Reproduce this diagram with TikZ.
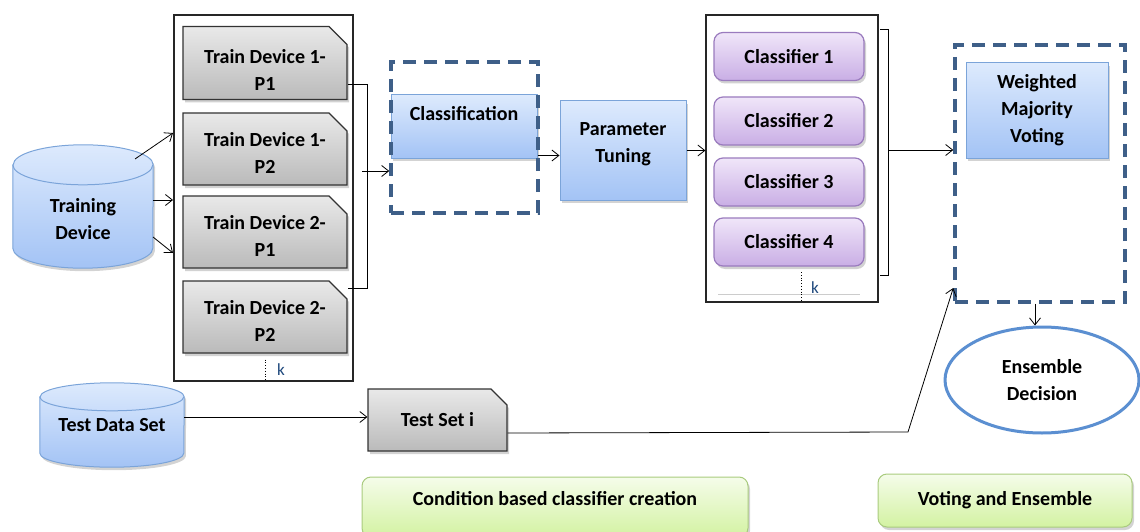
\documentclass[tikz,border=0pt]{standalone}
\usepackage{fontspec}
\setmainfont{Carlito}
\usepackage{xcolor}
\usetikzlibrary{arrows.meta, positioning, shapes.geometric, shapes.misc, shadows, backgrounds}

\definecolor{grayT}{HTML}{E9E9E9}
\definecolor{grayB}{HTML}{BABABA}
\definecolor{blueT}{HTML}{DDEAFD}
\definecolor{blueB}{HTML}{A3C3F5}
\definecolor{blueD}{HTML}{7BA4D9}
\definecolor{purpT}{HTML}{F0E6F9}
\definecolor{purpB}{HTML}{C9AEE5}
\definecolor{purpD}{HTML}{9A7BBE}
\definecolor{greenT}{HTML}{F5FCEA}
\definecolor{greenB}{HTML}{D3F2A2}
\definecolor{greenD}{HTML}{A9CB7E}
\definecolor{dashblue}{HTML}{3E5F88}
\definecolor{ringblue}{HTML}{5B8FD1}
\definecolor{kblue}{HTML}{1F497D}

\tikzset{
    shade/.style={drop shadow={shadow xshift=2pt, shadow yshift=-3pt, opacity=0.35, fill=black!50}},
    partbox/.style={chamfered rectangle, chamfered rectangle corners=north east,
        chamfered rectangle sep=9pt, draw=black!80, line width=1.2pt,
        top color=grayT, bottom color=grayB, shade},
    bluebox/.style={rectangle, draw=blueD, line width=1pt,
        top color=blueT, bottom color=blueB, shade},
    clfbox/.style={rectangle, rounded corners=9pt, draw=purpD, line width=1.2pt,
        top color=purpT, bottom color=purpB, minimum width=150pt, minimum height=48pt, shade},
    phasebox/.style={rectangle, rounded corners=9pt, draw=greenD, line width=1pt,
        top color=greenT, bottom color=greenB, shade},
    groupbox/.style={rectangle, draw=dashblue, line width=3.5pt, dash pattern=on 13pt off 8pt},
    outerbox/.style={rectangle, draw=black!85, line width=1.2pt, fill=white},
    dbshape/.style={draw=blueD, line width=1pt, top color=blueT, bottom color=blueB, shade},
}

% cylinder round a node: name, x radius, y radius
\newcommand{\drawdb}[3]{%
    \path[dbshape] ([yshift=-#3]#1.north west) -- ([yshift=#3]#1.south west)
        arc[start angle=180, end angle=360, x radius=#2, y radius=#3]
        -- ([yshift=-#3]#1.north east)
        arc[start angle=0, end angle=180, x radius=#2, y radius=#3] -- cycle;
    \draw[draw=blueD, line width=1pt] ([yshift=-#3]#1.north west)
        arc[start angle=180, end angle=360, x radius=#2, y radius=#3];
}

\begin{document}
\begin{tikzpicture}[x=1pt, y=-1pt, >={Straight Barb[length=7pt, width=11pt]},
    every node/.style={font=\bfseries\fontsize{20}{27}\selectfont, align=center, inner sep=0pt}]
    \useasboundingbox (0,0) rectangle (1140,532);

    % training data and its partitions
    \node[minimum width=140pt, minimum height=123pt] (trd) at (83,206.5) {\rule{0pt}{39pt}Training\\Device};
    \begin{scope}[on background layer]
        \drawdb{trd}{70pt}{20pt}
    \end{scope}
    \node[outerbox, minimum width=179pt, minimum height=366pt] (box1) at (263.5,198) {};
    \node[partbox, minimum width=164pt, minimum height=68pt] (p11) at (265,63) {\rule{0pt}{28pt}Train Device 1-\\P1};
    \node[partbox, minimum width=164pt, minimum height=72pt] (p12) at (265,149) {\rule{0pt}{22pt}Train Device 1-\\P2};
    \node[partbox, minimum width=164pt, minimum height=72pt] (p21) at (265,232) {\rule{0pt}{22pt}Train Device 2-\\P1};
    \node[partbox, minimum width=164pt, minimum height=72pt] (p22) at (265,317) {\rule{0pt}{22pt}Train Device 2-\\P2};
    \draw[dotted, thick] ([yshift=-6pt]p22.south) -- (p22.south |- box1.south);
    \node[font=\fontsize{17}{20}\selectfont, text=kblue] (k1) at (281,370) {k};

    \coordinate (a1s) at (135,159); \coordinate (a1e) at (173,133);
    \coordinate (a2s) at (153,200); \coordinate (a2e) at (173,200);
    \coordinate (a3s) at (153,237); \coordinate (a3e) at (173,253);
    \draw[->, thick] (a1s) -- (a1e);
    \draw[->, thick] (a2s) -- (a2e);
    \draw[->, thick] (a3s) -- (a3e);

    % classification and tuning
    \node[bluebox, minimum width=146pt, minimum height=63pt] (clsf) at (464,126.5) {Classification\\\mbox{}};
    \node[groupbox, minimum width=147pt, minimum height=151pt] (clsgrp) at (464.5,137.5) {};
    \node[bluebox, minimum width=126pt, minimum height=99pt] (ptun) at (623,150.5) {Parameter\\Tuning\\[-12pt]\mbox{}};

    \coordinate (bk1top) at (p11.east |- 0,84);
    \coordinate (bk1bot) at (p22.east |- 0,288);
    \draw[thick] (bk1top) -- ++(20,0) |- (bk1bot);
    \coordinate (bk1mid) at (362,171);
    \draw[->, thick] (bk1mid) -- (bk1mid -| clsgrp.west);
    \coordinate (c1) at ([yshift=3pt]clsf.south east);
    \draw[->, thick] (c1) -- (c1 -| ptun.west);

    % classifiers
    \node[outerbox, minimum width=172pt, minimum height=287pt] (box2) at (792,158.5) {};
    \node[clfbox] (cf1) at (789,56.5) {Classifier 1};
    \node[clfbox] (cf2) at (789,121) {Classifier 2};
    \node[clfbox] (cf3) at (789,182) {Classifier 3};
    \node[clfbox] (cf4) at (789,242) {Classifier 4};
    \draw[black!20] (718,294) -- (860,294);
    \coordinate (k2top) at (801,272);
    \draw[dotted, thick] (k2top) -- (k2top |- box2.south);
    \node[font=\fontsize{17}{20}\selectfont, text=kblue] (k2) at (815,288) {k};
    \draw[->, thick] (ptun.east) -- (ptun.east -| box2.west);

    % voting
    \node[bluebox, minimum width=142pt, minimum height=95pt] (wmv) at (1037,110.5) {Weighted\\Majority\\Voting};
    \node[groupbox, minimum width=170pt, minimum height=257pt] (vgrp) at (1040,173.5) {};
    \coordinate (bk2top) at (880,29);
    \coordinate (bk2bot) at (880,275);
    \draw[thick] (bk2top) -- ++(8,0) |- (bk2bot);
    \coordinate (bk2mid) at (888,150);
    \draw[->, thick] (bk2mid) -- (bk2mid -| vgrp.west);
    \node[ellipse, draw=ringblue, line width=3pt, fill=white, minimum width=194pt, minimum height=106pt] (ens) at (1042,380) {Ensemble\\Decision};
    \draw[->, thick] (vgrp.south -| 1035,0) -- (1035,0 |- ens.north);

    % test data
    \node[minimum width=144pt, minimum height=84pt] (tds) at (112,425) {Test Data Set};
    \begin{scope}[on background layer]
        \drawdb{tds}{72pt}{14pt}
    \end{scope}
    \node[partbox, minimum width=139pt, minimum height=62pt] (tset) at (437.5,420) {Test Set i};
    \coordinate (t1) at (tds.east |- 0,417);
    \draw[->, thick] (t1) -- (t1 -| tset.west);
    \coordinate (t2) at (tset.east |- 0,433);
    \coordinate (tk) at (908,432);
    \coordinate (vin) at (vgrp.west |- 0,288);
    \draw[->, thick] (t2) -- (tk) -- (vin);

    % phases
    \node[phasebox, minimum width=386pt, minimum height=60pt] (phase1) at (555,507) {Condition based classifier creation\\[-10pt]\mbox{}};
    \node[phasebox, minimum width=254pt, minimum height=53pt] (phase2) at (1005,500.5) {Voting and Ensemble};
\end{tikzpicture}
\end{document}
